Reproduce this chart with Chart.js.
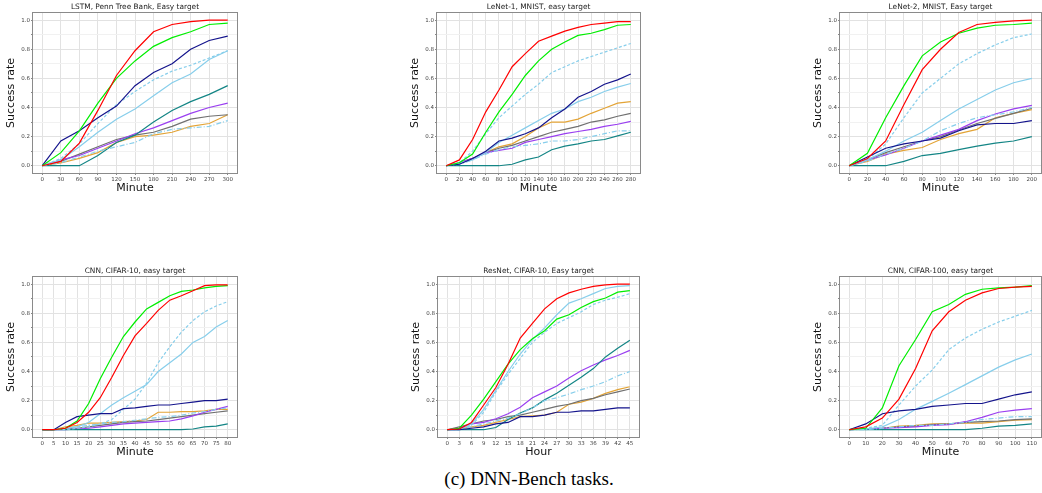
<!DOCTYPE html>
<html>
<head>
<meta charset="utf-8">
<script src="https://cdn.jsdelivr.net/npm/chart.js@4/dist/chart.umd.min.js"></script>
<style>
  body { margin: 0; background: #fff; width: 1042px; height: 493px; overflow: hidden; position: relative; }
  canvas { position: absolute; }
  #caption { position: absolute; left: 0; top: 468px; width: 1058px; text-align: center;
             font: 19px "Liberation Serif", serif; color: #000; }
</style>
</head>
<body>
<div id="caption">(c) DNN-Bench tasks.</div>
<script>
// line order in every panel:
// red, lime, navy, skyblue, skyblue --, skyblue -., teal, violet, grey, orange
const rateTicks = [0.0, 0.1, 0.2, 0.3, 0.4, 0.5, 0.6, 0.7, 0.8, 0.9, 1.0];

const lstmMinutes = [0, 30, 60, 90, 120, 150, 180, 210, 240, 270, 300];
const lstmRates = [
  [0, 0.03, 0.155, 0.38, 0.62, 0.79, 0.92, 0.97, 0.99, 1.0, 1.0],
  [0, 0.09, 0.24, 0.43, 0.60, 0.72, 0.82, 0.88, 0.92, 0.97, 0.98],
  [0, 0.17, 0.24, 0.33, 0.41, 0.55, 0.64, 0.70, 0.80, 0.86, 0.89],
  [0, 0.04, 0.13, 0.23, 0.32, 0.39, 0.48, 0.57, 0.63, 0.73, 0.79],
  [0, 0.05, 0.15, 0.29, 0.42, 0.51, 0.59, 0.65, 0.69, 0.74, 0.79],
  [0, 0.02, 0.06, 0.10, 0.13, 0.16, 0.22, 0.25, 0.26, 0.27, 0.31],
  [0, 0, 0, 0.07, 0.16, 0.21, 0.30, 0.38, 0.44, 0.49, 0.55],
  [0, 0.04, 0.07, 0.12, 0.17, 0.22, 0.26, 0.31, 0.36, 0.40, 0.43],
  [0, 0.03, 0.08, 0.13, 0.18, 0.21, 0.23, 0.27, 0.32, 0.34, 0.35],
  [0, 0.02, 0.05, 0.09, 0.16, 0.20, 0.21, 0.23, 0.27, 0.29, 0.35]
];

const lenet1Minutes = [0, 20, 40, 60, 80, 100, 120, 140, 160, 180, 200, 220, 240, 260, 280];
const lenet1Rates = [
  [0, 0.04, 0.18, 0.37, 0.52, 0.68, 0.77, 0.855, 0.89, 0.925, 0.95, 0.97, 0.98, 0.99, 0.99],
  [0, 0.02, 0.08, 0.23, 0.37, 0.49, 0.62, 0.72, 0.80, 0.85, 0.895, 0.91, 0.935, 0.965, 0.97],
  [0, 0.01, 0.05, 0.10, 0.17, 0.19, 0.22, 0.26, 0.33, 0.39, 0.47, 0.51, 0.56, 0.59, 0.63],
  [0, 0.02, 0.04, 0.09, 0.16, 0.21, 0.26, 0.31, 0.36, 0.39, 0.44, 0.47, 0.51, 0.54, 0.565],
  [0, 0.02, 0.10, 0.22, 0.33, 0.41, 0.49, 0.56, 0.64, 0.68, 0.72, 0.75, 0.78, 0.81, 0.84],
  [0, 0.01, 0.04, 0.08, 0.11, 0.13, 0.14, 0.15, 0.17, 0.17, 0.18, 0.20, 0.22, 0.24, 0.24],
  [0, 0, 0, 0, 0, 0.01, 0.04, 0.06, 0.11, 0.135, 0.15, 0.17, 0.18, 0.205, 0.23],
  [0, 0.02, 0.05, 0.09, 0.105, 0.12, 0.16, 0.18, 0.20, 0.22, 0.235, 0.25, 0.27, 0.285, 0.305],
  [0, 0.02, 0.05, 0.09, 0.12, 0.14, 0.17, 0.20, 0.23, 0.25, 0.27, 0.30, 0.315, 0.34, 0.36],
  [0, 0.02, 0.05, 0.09, 0.13, 0.15, 0.20, 0.26, 0.30, 0.30, 0.32, 0.36, 0.395, 0.43, 0.44]
];

const lenet2Minutes = [0, 20, 40, 60, 80, 100, 120, 140, 160, 180, 200];
const lenet2Rates = [
  [0, 0.05, 0.17, 0.42, 0.66, 0.80, 0.915, 0.97, 0.985, 0.995, 1.0],
  [0, 0.085, 0.33, 0.55, 0.755, 0.85, 0.91, 0.945, 0.965, 0.97, 0.98],
  [0, 0.06, 0.12, 0.15, 0.17, 0.19, 0.24, 0.28, 0.29, 0.29, 0.31],
  [0, 0.04, 0.10, 0.17, 0.23, 0.31, 0.39, 0.455, 0.52, 0.57, 0.60],
  [0, 0.04, 0.15, 0.33, 0.50, 0.60, 0.70, 0.77, 0.83, 0.88, 0.905],
  [0, 0.03, 0.08, 0.12, 0.17, 0.24, 0.29, 0.33, 0.35, 0.37, 0.40],
  [0, 0, 0, 0.03, 0.07, 0.085, 0.11, 0.135, 0.155, 0.17, 0.20],
  [0, 0.04, 0.075, 0.12, 0.17, 0.21, 0.25, 0.31, 0.355, 0.39, 0.415],
  [0, 0.04, 0.09, 0.13, 0.17, 0.20, 0.245, 0.29, 0.325, 0.36, 0.395],
  [0, 0.03, 0.08, 0.105, 0.125, 0.18, 0.22, 0.25, 0.33, 0.36, 0.385]
];

const cifar10Minutes = [0, 5, 10, 15, 20, 25, 30, 35, 40, 45, 50, 55, 60, 65, 70, 75, 80];
const cifar10Rates = [
  [0, 0, 0.01, 0.05, 0.12, 0.22, 0.36, 0.51, 0.645, 0.73, 0.82, 0.89, 0.92, 0.955, 0.99, 0.995, 0.995],
  [0, 0, 0.01, 0.06, 0.18, 0.35, 0.50, 0.64, 0.74, 0.83, 0.875, 0.92, 0.95, 0.96, 0.975, 0.985, 0.99],
  [0, 0, 0.05, 0.09, 0.10, 0.11, 0.11, 0.145, 0.15, 0.16, 0.17, 0.17, 0.18, 0.19, 0.20, 0.20, 0.21],
  [0, 0, 0.01, 0.02, 0.05, 0.11, 0.17, 0.22, 0.265, 0.31, 0.40, 0.46, 0.52, 0.60, 0.64, 0.705, 0.75],
  [0, 0, 0, 0.01, 0.02, 0.04, 0.07, 0.14, 0.21, 0.32, 0.46, 0.57, 0.67, 0.75, 0.81, 0.85, 0.88],
  [0, 0, 0.01, 0.02, 0.03, 0.04, 0.05, 0.055, 0.065, 0.075, 0.085, 0.09, 0.10, 0.115, 0.125, 0.14, 0.15],
  [0, 0, 0, 0, 0, 0, 0, 0, 0, 0, 0, 0, 0, 0.005, 0.02, 0.025, 0.04],
  [0, 0, 0, 0.005, 0.01, 0.02, 0.03, 0.04, 0.045, 0.05, 0.055, 0.06, 0.075, 0.095, 0.12, 0.14, 0.16],
  [0, 0, 0.005, 0.01, 0.02, 0.03, 0.04, 0.05, 0.055, 0.06, 0.07, 0.08, 0.09, 0.10, 0.11, 0.12, 0.13],
  [0, 0, 0.02, 0.03, 0.045, 0.045, 0.05, 0.055, 0.06, 0.07, 0.12, 0.12, 0.125, 0.125, 0.13, 0.14, 0.14]
];

const resnetHours = [0, 3, 6, 9, 12, 15, 18, 21, 24, 27, 30, 33, 36, 39, 42, 45];
const resnetRates = [
  [0, 0.005, 0.05, 0.17, 0.29, 0.45, 0.63, 0.73, 0.83, 0.90, 0.94, 0.965, 0.985, 0.995, 1.0, 1.0],
  [0, 0.01, 0.10, 0.21, 0.33, 0.45, 0.55, 0.625, 0.68, 0.76, 0.79, 0.84, 0.88, 0.905, 0.945, 0.955],
  [0, 0, 0.01, 0.02, 0.04, 0.05, 0.09, 0.09, 0.10, 0.12, 0.12, 0.13, 0.13, 0.14, 0.15, 0.15],
  [0, 0, 0.04, 0.14, 0.27, 0.40, 0.52, 0.62, 0.70, 0.79, 0.87, 0.90, 0.935, 0.97, 0.985, 0.99],
  [0, 0, 0.03, 0.12, 0.26, 0.38, 0.49, 0.60, 0.67, 0.73, 0.77, 0.81, 0.86, 0.89, 0.91, 0.935],
  [0, 0, 0.02, 0.04, 0.06, 0.08, 0.11, 0.15, 0.20, 0.22, 0.245, 0.275, 0.30, 0.33, 0.37, 0.40],
  [0, 0, 0, 0, 0.015, 0.07, 0.115, 0.15, 0.205, 0.25, 0.305, 0.36, 0.42, 0.50, 0.56, 0.615],
  [0, 0.01, 0.04, 0.05, 0.075, 0.11, 0.155, 0.22, 0.26, 0.30, 0.355, 0.405, 0.445, 0.48, 0.51, 0.545],
  [0, 0.02, 0.04, 0.06, 0.07, 0.09, 0.10, 0.12, 0.14, 0.16, 0.175, 0.20, 0.215, 0.24, 0.26, 0.28],
  [0, 0.005, 0.02, 0.03, 0.05, 0.07, 0.09, 0.095, 0.10, 0.12, 0.175, 0.19, 0.215, 0.25, 0.275, 0.295]
];

const cifar100Minutes = [0, 10, 20, 30, 40, 50, 60, 70, 80, 90, 100, 110];
const cifar100Rates = [
  [0, 0.02, 0.08, 0.21, 0.42, 0.68, 0.81, 0.89, 0.94, 0.97, 0.98, 0.985],
  [0, 0.01, 0.15, 0.44, 0.62, 0.81, 0.86, 0.93, 0.965, 0.975, 0.98, 0.99],
  [0, 0.04, 0.11, 0.13, 0.14, 0.16, 0.17, 0.18, 0.18, 0.21, 0.24, 0.26],
  [0, 0.005, 0.02, 0.07, 0.14, 0.195, 0.25, 0.31, 0.37, 0.43, 0.48, 0.52],
  [0, 0.01, 0.03, 0.17, 0.30, 0.41, 0.55, 0.63, 0.69, 0.74, 0.78, 0.82],
  [0, 0, 0.01, 0.02, 0.03, 0.03, 0.04, 0.05, 0.07, 0.08, 0.09, 0.09],
  [0, 0, 0, 0, 0, 0, 0, 0, 0.01, 0.025, 0.03, 0.04],
  [0, 0.005, 0.01, 0.015, 0.02, 0.03, 0.035, 0.055, 0.085, 0.12, 0.135, 0.145],
  [0, 0.005, 0.01, 0.02, 0.025, 0.035, 0.04, 0.05, 0.055, 0.06, 0.07, 0.075],
  [0, 0.005, 0.01, 0.025, 0.03, 0.04, 0.04, 0.045, 0.045, 0.055, 0.065, 0.07]
];

const lineStyles = [
  { color: '#ff0000', dash: [] },
  { color: '#00ee00', dash: [] },
  { color: '#14148c', dash: [] },
  { color: '#87ceeb', dash: [] },
  { color: '#87ceeb', dash: [3, 2] },
  { color: '#87ceeb', dash: [5, 2, 1, 2] },
  { color: '#138585', dash: [] },
  { color: '#9a3ff0', dash: [] },
  { color: '#707070', dash: [] },
  { color: '#e3a437', dash: [] }
];

// frame (left/right edge of plot box, top edge)
const panels = [
  { x: lstmMinutes, y: lstmRates, title: 'LSTM, Penn Tree Bank, Easy target', unit: 'Minute', left: 33, right: 237, top: 13 },
  { x: lenet1Minutes, y: lenet1Rates, title: 'LeNet-1, MNIST, easy target', unit: 'Minute', left: 437, right: 640, top: 13 },
  { x: lenet2Minutes, y: lenet2Rates, title: 'LeNet-2, MNIST, Easy target', unit: 'Minute', left: 840, right: 1041, top: 13 },
  { x: cifar10Minutes, y: cifar10Rates, title: 'CNN, CIFAR-10, easy target', unit: 'Minute', left: 33, right: 237, top: 277 },
  { x: resnetHours, y: resnetRates, title: 'ResNet, CIFAR-10, Easy target', unit: 'Hour', left: 438, right: 639, top: 277 },
  { x: cifar100Minutes, y: cifar100Rates, title: 'CNN, CIFAR-100, easy target', unit: 'Minute', left: 840, right: 1041, top: 277 }
];

const frameBox = {
  id: 'frameBox',
  afterDraw(chart) {
    const a = chart.chartArea, g = chart.ctx;
    g.save();
    g.strokeStyle = '#8a8a8a';
    g.lineWidth = 1;
    g.strokeRect(Math.round(a.left) - 0.5, Math.round(a.top) - 0.5,
                 Math.round(a.right - a.left) + 1, Math.round(a.bottom - a.top) + 1);
    g.restore();
  }
};

const isMajor = v => Math.round(v * 10) % 2 === 0;

panels.forEach(p => {
  const cv = document.createElement('canvas');
  const w = 33 + (p.right - p.left) + 4;
  const h = 12 + 160 + 24;
  cv.width = w; cv.height = h;
  cv.style.left = (p.left - 33) + 'px';
  cv.style.top = (p.top - 12) + 'px';
  document.body.appendChild(cv);
  const xMax = p.x[p.x.length - 1];

  new Chart(cv, {
    type: 'line',
    data: {
      datasets: p.y.map((vals, k) => ({
        data: vals.map((v, j) => ({ x: p.x[j], y: v })),
        borderColor: lineStyles[k].color,
        borderDash: lineStyles[k].dash,
        borderWidth: 1.2,
        pointRadius: 0,
        tension: 0,
        fill: false
      }))
    },
    options: {
      responsive: false,
      animation: false,
      devicePixelRatio: 1,
      layout: { padding: { right: 4 } },
      plugins: {
        legend: { display: false },
        tooltip: { enabled: false },
        title: {
          display: true, text: p.title, fullSize: false, color: '#222',
          font: { family: 'DejaVu Sans', size: 7.4, weight: 'normal' },
          padding: { top: 2, bottom: 1 }
        }
      },
      scales: {
        x: {
          type: 'linear',
          min: -0.05 * xMax, max: 1.05 * xMax,
          afterBuildTicks: s => { s.ticks = p.x.map(v => ({ value: v })); },
          afterFit: s => { s.height = 24; },
          ticks: { font: { family: 'DejaVu Sans', size: 5.5 }, color: '#444', padding: 1, maxRotation: 0, minRotation: 0, autoSkip: false },
          grid: { color: '#e2e2e2', tickLength: 2, tickColor: '#888' },
          border: { display: false },
          title: { display: true, text: p.unit, color: '#111', font: { family: 'DejaVu Sans', size: 11 }, padding: { top: 0, bottom: 2 } }
        },
        y: {
          min: -0.05, max: 1.05,
          afterBuildTicks: s => { s.ticks = rateTicks.map(v => ({ value: v })); },
          afterFit: s => { s.width = 33; },
          ticks: {
            font: { family: 'DejaVu Sans', size: 5.5 }, color: '#444', padding: 1, autoSkip: false,
            callback: v => isMajor(v) ? v.toFixed(1) : ''
          },
          grid: {
            color: c => (c.tick && !isMajor(c.tick.value)) ? '#f1f1f1' : '#e2e2e2',
            tickLength: 2, tickColor: '#888'
          },
          border: { display: false },
          title: { display: true, text: 'Success rate', color: '#111', font: { family: 'DejaVu Sans', size: 11 }, padding: { top: 5, bottom: 0 } }
        }
      }
    },
    plugins: [frameBox]
  });
});
</script>
</body>
</html>
